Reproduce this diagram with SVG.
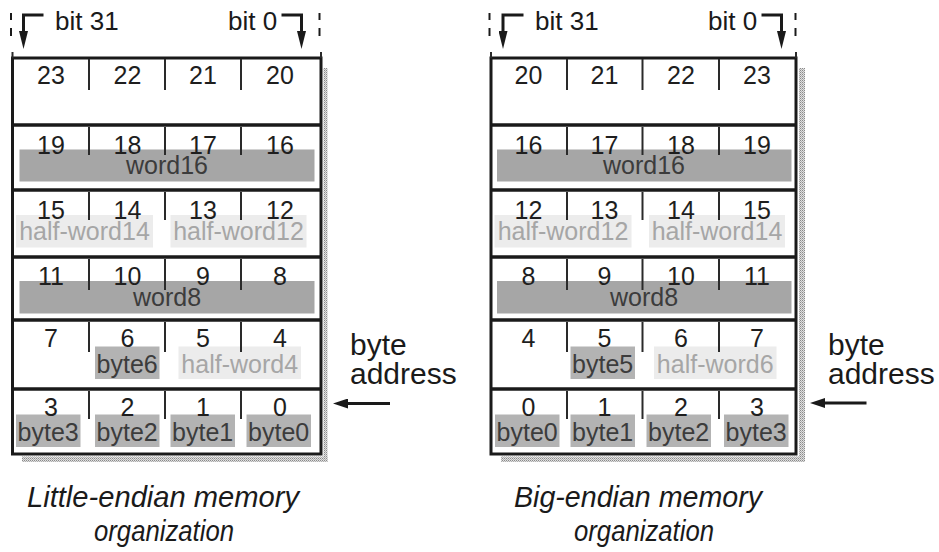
<svg xmlns="http://www.w3.org/2000/svg" width="939" height="552" viewBox="0 0 939 552">
<defs>
<pattern id="dots" width="2" height="2" patternUnits="userSpaceOnUse">
<rect width="2" height="2" fill="#e0e0e0"/>
<rect width="1" height="1" fill="#8a8a8a"/>
<rect x="1" y="1" width="1" height="1" fill="#b0b0b0"/>
</pattern>
<marker id="headBit" markerUnits="userSpaceOnUse" markerWidth="18" markerHeight="9" refX="0" refY="4.5" orient="auto">
<path d="M0,0 L18,4.5 L0,9 z" fill="#1a1a1a"/>
</marker>
<marker id="headAddr" markerUnits="userSpaceOnUse" markerWidth="15" markerHeight="10" refX="0" refY="5" orient="auto">
<path d="M0,0 L15,5 L0,10 z" fill="#1a1a1a"/>
</marker>
</defs>
<style>
.frame{fill:#fff;stroke:#1a1a1a;stroke-width:3}
.div{stroke:#1a1a1a;stroke-width:3.5}
.tick{stroke:#2a2a2a;stroke-width:2}
.shadow{fill:url(#dots)}
.num{font-family:"Liberation Sans",Arial,sans-serif;font-size:25px;fill:#1e1e1e;text-anchor:middle}
.lbl{font-family:"Liberation Sans",Arial,sans-serif;font-size:25px;text-anchor:middle}
.dark{fill:#3c3c3c}
.light{fill:#a6a6a6}
.word{fill:#a6a6a6}
.byte{fill:#b3b3b3}
.half{fill:#ececec}
.txt{font-family:"Liberation Sans",Arial,sans-serif;fill:#1a1a1a}
.cap{font-family:"Liberation Sans",Arial,sans-serif;font-style:italic;font-size:29px;fill:#1a1a1a;text-anchor:middle}
.conn{fill:none;stroke:#1a1a1a;stroke-width:3}
.dash{stroke:#1a1a1a;stroke-width:2}
</style>

<!-- Little-endian -->
<g id="little-endian">
<rect class="shadow" x="323.5" y="68" width="4" height="394"/>
<rect class="shadow" x="22" y="456.5" width="305.5" height="5.5"/>
<rect class="frame" x="12.5" y="58" width="308.5" height="396"/>
<line class="tick" x1="12.5" y1="52" x2="12.5" y2="58"/>
<line class="tick" x1="321" y1="52" x2="321" y2="58"/>
<line class="div" x1="12.5" y1="125" x2="321" y2="125"/>
<line class="div" x1="12.5" y1="190" x2="321" y2="190"/>
<line class="div" x1="12.5" y1="257" x2="321" y2="257"/>
<line class="div" x1="12.5" y1="320" x2="321" y2="320"/>
<line class="div" x1="12.5" y1="389" x2="321" y2="389"/>
<g id="le-row20">
<text class="num" x="51" y="83.5">23</text><text class="num" x="127.5" y="83.5">22</text><text class="num" x="203" y="83.5">21</text><text class="num" x="280" y="83.5">20</text>
<line class="tick" x1="89" y1="59" x2="89" y2="90"/><line class="tick" x1="165" y1="59" x2="165" y2="90"/><line class="tick" x1="241" y1="59" x2="241" y2="90"/>
</g>
<g id="le-row16">
<rect class="word" x="19.5" y="149.5" width="295" height="32"/>
<text class="num" x="51" y="153.5">19</text><text class="num" x="127.5" y="153.5">18</text><text class="num" x="203" y="153.5">17</text><text class="num" x="280" y="153.5">16</text>
<line class="tick" x1="89" y1="127" x2="89" y2="155"/><line class="tick" x1="165" y1="127" x2="165" y2="155"/><line class="tick" x1="241" y1="127" x2="241" y2="155"/>
<text class="lbl dark" x="167" y="174">word16</text>
</g>
<g id="le-row12">
<rect class="half" x="16" y="215" width="137" height="32.5"/>
<rect class="half" x="170.5" y="215" width="136" height="32.5"/>
<text class="num" x="51" y="218.5">15</text><text class="num" x="127.5" y="218.5">14</text><text class="num" x="203" y="218.5">13</text><text class="num" x="280" y="218.5">12</text>
<line class="tick" x1="89" y1="192" x2="89" y2="220"/><line class="tick" x1="165" y1="192" x2="165" y2="220"/><line class="tick" x1="241" y1="192" x2="241" y2="220"/>
<text class="lbl light" x="84.5" y="240">half-word14</text>
<text class="lbl light" x="238.5" y="240">half-word12</text>
</g>
<g id="le-row8">
<rect class="word" x="19.5" y="281" width="295" height="32.5"/>
<text class="num" x="51" y="284.5">11</text><text class="num" x="127.5" y="284.5">10</text><text class="num" x="203" y="284.5">9</text><text class="num" x="280" y="284.5">8</text>
<line class="tick" x1="89" y1="259" x2="89" y2="290"/><line class="tick" x1="165" y1="259" x2="165" y2="290"/><line class="tick" x1="241" y1="259" x2="241" y2="290"/>
<text class="lbl dark" x="167" y="305.5">word8</text>
</g>
<g id="le-row4">
<rect class="byte" x="95" y="346.5" width="64.5" height="32.5"/>
<rect class="half" x="178.5" y="346.5" width="122.5" height="32.5"/>
<text class="num" x="51" y="346.5">7</text><text class="num" x="127.5" y="346.5">6</text><text class="num" x="203" y="346.5">5</text><text class="num" x="280" y="346.5">4</text>
<line class="tick" x1="89" y1="322" x2="89" y2="352"/><line class="tick" x1="165" y1="322" x2="165" y2="352"/><line class="tick" x1="241" y1="322" x2="241" y2="352"/>
<text class="lbl dark" x="127.2" y="372.5">byte6</text>
<text class="lbl light" x="239.7" y="372.5">half-word4</text>
</g>
<g id="le-row0">
<rect class="byte" x="16" y="414.5" width="64.5" height="32.5"/>
<rect class="byte" x="95" y="414.5" width="64.5" height="32.5"/>
<rect class="byte" x="170.5" y="414.5" width="64.5" height="32.5"/>
<rect class="byte" x="246.5" y="414.5" width="64.5" height="32.5"/>
<text class="num" x="51" y="415.5">3</text><text class="num" x="127.5" y="415.5">2</text><text class="num" x="203" y="415.5">1</text><text class="num" x="280" y="415.5">0</text>
<line class="tick" x1="89" y1="391" x2="89" y2="419"/><line class="tick" x1="165" y1="391" x2="165" y2="419"/><line class="tick" x1="241" y1="391" x2="241" y2="419"/>
<text class="lbl dark" x="48.2" y="440.5">byte3</text>
<text class="lbl dark" x="127.2" y="440.5">byte2</text>
<text class="lbl dark" x="202.7" y="440.5">byte1</text>
<text class="lbl dark" x="278.7" y="440.5">byte0</text>
</g>
<text class="txt" x="55" y="29.5" font-size="26">bit 31</text>
<text class="txt" x="228" y="29.5" font-size="26">bit 0</text>
<text class="txt" x="350" y="355" font-size="30">byte</text>
<text class="txt" x="350" y="383.5" font-size="30">address</text>
<text class="cap" x="163" y="507" textLength="272" lengthAdjust="spacingAndGlyphs">Little-endian memory</text>
<text class="cap" x="164" y="541" textLength="140" lengthAdjust="spacingAndGlyphs">organization</text>
</g>

<!-- Big-endian -->
<g id="big-endian">
<rect class="shadow" x="799" y="68" width="6" height="394"/>
<rect class="shadow" x="501" y="456.5" width="304" height="5.5"/>
<rect class="frame" x="491" y="58" width="305" height="396"/>
<line class="tick" x1="491" y1="52" x2="491" y2="58"/>
<line class="tick" x1="796" y1="52" x2="796" y2="58"/>
<line class="div" x1="491" y1="125" x2="796" y2="125"/>
<line class="div" x1="491" y1="190" x2="796" y2="190"/>
<line class="div" x1="491" y1="257" x2="796" y2="257"/>
<line class="div" x1="491" y1="320" x2="796" y2="320"/>
<line class="div" x1="491" y1="389" x2="796" y2="389"/>
<g id="be-row20">
<text class="num" x="528.5" y="83.5">20</text><text class="num" x="604.5" y="83.5">21</text><text class="num" x="681" y="83.5">22</text><text class="num" x="757" y="83.5">23</text>
<line class="tick" x1="567" y1="59" x2="567" y2="90"/><line class="tick" x1="642.5" y1="59" x2="642.5" y2="90"/><line class="tick" x1="719" y1="59" x2="719" y2="90"/>
</g>
<g id="be-row16">
<rect class="word" x="497" y="149.5" width="294.5" height="32"/>
<text class="num" x="528.5" y="153.5">16</text><text class="num" x="604.5" y="153.5">17</text><text class="num" x="681" y="153.5">18</text><text class="num" x="757" y="153.5">19</text>
<line class="tick" x1="567" y1="127" x2="567" y2="155"/><line class="tick" x1="642.5" y1="127" x2="642.5" y2="155"/><line class="tick" x1="719" y1="127" x2="719" y2="155"/>
<text class="lbl dark" x="644" y="174">word16</text>
</g>
<g id="be-row12">
<rect class="half" x="494.5" y="215" width="137" height="32.5"/>
<rect class="half" x="649" y="215" width="136" height="32.5"/>
<text class="num" x="528.5" y="218.5">12</text><text class="num" x="604.5" y="218.5">13</text><text class="num" x="681" y="218.5">14</text><text class="num" x="757" y="218.5">15</text>
<line class="tick" x1="567" y1="192" x2="567" y2="220"/><line class="tick" x1="642.5" y1="192" x2="642.5" y2="220"/><line class="tick" x1="719" y1="192" x2="719" y2="220"/>
<text class="lbl light" x="563" y="240">half-word12</text>
<text class="lbl light" x="717" y="240">half-word14</text>
</g>
<g id="be-row8">
<rect class="word" x="497" y="281" width="294.5" height="32.5"/>
<text class="num" x="528.5" y="284.5">8</text><text class="num" x="604.5" y="284.5">9</text><text class="num" x="681" y="284.5">10</text><text class="num" x="757" y="284.5">11</text>
<line class="tick" x1="567" y1="259" x2="567" y2="290"/><line class="tick" x1="642.5" y1="259" x2="642.5" y2="290"/><line class="tick" x1="719" y1="259" x2="719" y2="290"/>
<text class="lbl dark" x="644" y="305.5">word8</text>
</g>
<g id="be-row4">
<rect class="byte" x="570.5" y="346.5" width="64.5" height="32.5"/>
<rect class="half" x="654" y="346.5" width="122.5" height="32.5"/>
<text class="num" x="528.5" y="346.5">4</text><text class="num" x="604.5" y="346.5">5</text><text class="num" x="681" y="346.5">6</text><text class="num" x="757" y="346.5">7</text>
<line class="tick" x1="567" y1="322" x2="567" y2="352"/><line class="tick" x1="642.5" y1="322" x2="642.5" y2="352"/><line class="tick" x1="719" y1="322" x2="719" y2="352"/>
<text class="lbl dark" x="602.7" y="372.5">byte5</text>
<text class="lbl light" x="715.2" y="372.5">half-word6</text>
</g>
<g id="be-row0">
<rect class="byte" x="495" y="414.5" width="64.5" height="32.5"/>
<rect class="byte" x="570.5" y="414.5" width="64.5" height="32.5"/>
<rect class="byte" x="646.5" y="414.5" width="64.5" height="32.5"/>
<rect class="byte" x="724" y="414.5" width="64.5" height="32.5"/>
<text class="num" x="528.5" y="415.5">0</text><text class="num" x="604.5" y="415.5">1</text><text class="num" x="681" y="415.5">2</text><text class="num" x="757" y="415.5">3</text>
<line class="tick" x1="567" y1="391" x2="567" y2="419"/><line class="tick" x1="642.5" y1="391" x2="642.5" y2="419"/><line class="tick" x1="719" y1="391" x2="719" y2="419"/>
<text class="lbl dark" x="527.2" y="440.5">byte0</text>
<text class="lbl dark" x="602.7" y="440.5">byte1</text>
<text class="lbl dark" x="678.7" y="440.5">byte2</text>
<text class="lbl dark" x="756.2" y="440.5">byte3</text>
</g>
<text class="txt" x="535" y="29.5" font-size="26">bit 31</text>
<text class="txt" x="708" y="29.5" font-size="26">bit 0</text>
<text class="txt" x="828" y="355" font-size="30">byte</text>
<text class="txt" x="828" y="383.5" font-size="30">address</text>
<text class="cap" x="638" y="507" textLength="248" lengthAdjust="spacingAndGlyphs">Big-endian memory</text>
<text class="cap" x="644" y="541" textLength="140" lengthAdjust="spacingAndGlyphs">organization</text>
</g>

<g id="connectors">
<line class="dash" x1="11" y1="13" x2="11" y2="20"/><line class="dash" x1="11" y1="28" x2="11" y2="36"/>
<line class="dash" x1="319.5" y1="13" x2="319.5" y2="20"/><line class="dash" x1="319.5" y1="28" x2="319.5" y2="36"/>
<line class="dash" x1="489.5" y1="13" x2="489.5" y2="20"/><line class="dash" x1="489.5" y1="28" x2="489.5" y2="36"/>
<line class="dash" x1="795.5" y1="13" x2="795.5" y2="20"/><line class="dash" x1="795.5" y1="28" x2="795.5" y2="36"/>
<path class="conn" d="M43.5,15 H23.5 V31" marker-end="url(#headBit)"/>
<path class="conn" d="M281.5,15 H301.5 V31" marker-end="url(#headBit)"/>
<path class="conn" d="M523.5,15 H503 V31" marker-end="url(#headBit)"/>
<path class="conn" d="M761.5,15 H781.5 V31" marker-end="url(#headBit)"/>
<line class="conn" x1="390" y1="403.5" x2="348" y2="403.5" marker-end="url(#headAddr)"/>
<line class="conn" x1="866.5" y1="403" x2="825" y2="403" marker-end="url(#headAddr)"/>
</g>
</svg>
